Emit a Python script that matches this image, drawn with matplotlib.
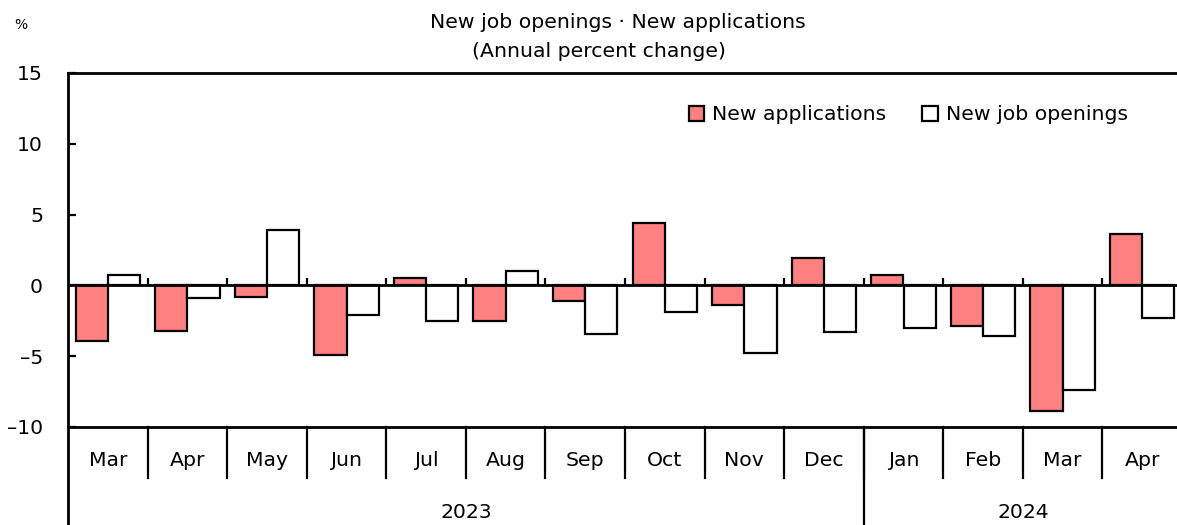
import matplotlib
matplotlib.use("Agg")
import matplotlib.pyplot as plt
import numpy as np

months = ["Mar", "Apr", "May", "Jun", "Jul", "Aug", "Sep", "Oct", "Nov", "Dec",
          "Jan", "Feb", "Mar", "Apr"]
years = ["2023", "2024"]
year_counts = [10, 4]
new_applications = [-3.9, -3.2, -0.8, -4.9, 0.5, -2.5, -1.1, 4.4, -1.4, 1.9,
                    0.7, -2.9, -8.9, 3.6]
new_job_openings = [0.7, -0.9, 3.9, -2.1, -2.5, 1.0, -3.4, -1.9, -4.8, -3.3,
                    -3.0, -3.6, -7.4, -2.3]
yticks = [15, 10, 5, 0, -5, -10]

plt.rcParams['font.family'] = ['DejaVu Sans']
FS = 14.7

W, H = 1177, 525
fig = plt.figure(figsize=(W / 100, H / 100), dpi=100)
left, right, top, bottom = 68, 1182, 73, 427
ax = fig.add_axes([left / W, (H - bottom) / H, (right - left) / W, (bottom - top) / H])

n = len(months)
x = np.arange(n) + 0.5
bw = 0.405
ax.bar(x - bw / 2, new_applications, width=bw, color="#FF8080", edgecolor="black",
       linewidth=1.6, label="New applications", zorder=3)
ax.bar(x + bw / 2, new_job_openings, width=bw, color="white", edgecolor="black",
       linewidth=1.6, label="New job openings", zorder=3)

ax.set_xlim(0, n)
ax.set_ylim(-10, 15)
ax.axhline(0, color="black", linewidth=2, zorder=4)
# small ticks on zero line at category boundaries
ax.vlines(np.arange(1, n), 0, 0.5, color="black", linewidth=1.6, zorder=4)

for s in ["left", "top", "bottom"]:
    ax.spines[s].set_linewidth(2)
ax.spines["right"].set_visible(False)

ax.set_yticks(yticks)
ax.set_yticklabels([str(v).replace("-", "\u2013") for v in yticks], fontsize=FS)
ax.tick_params(axis="y", direction="in", length=6, width=1.6, pad=18)
ax.set_xticks([])

# month / year rows
tr = ax.get_xaxis_transform()
ax_h = bottom - top
y_sep1 = -(478 - bottom) / ax_h
y_sep2 = -(H - bottom) / ax_h
for k in range(1, n):
    ax.plot([k, k], [0, y_sep1], transform=tr, color="black", lw=1.6, clip_on=False)
for i, m in enumerate(months):
    ax.text(i + 0.5, -(461 - bottom) / ax_h, m, transform=tr, ha="center", va="center",
            fontsize=FS)
ax.plot([0, 0], [0, y_sep2], transform=tr, color="black", lw=2, clip_on=False)
start = 0
for yr, c in zip(years, year_counts):
    ax.text(start + c / 2, -(512 - bottom) / ax_h, yr, transform=tr, ha="center",
            va="center", fontsize=FS)
    start += c
    if start < n:
        ax.plot([start, start], [0, y_sep2], transform=tr, color="black", lw=1.6,
                clip_on=False)

# titles
fig.text(618 / W, 1 - 28 / H, "New job openings \u00b7 New applications", ha="center",
         va="baseline", fontsize=FS)
fig.text(599 / W, 1 - 57 / H, "(Annual percent change)", ha="center", va="baseline",
         fontsize=FS)
fig.text(21 / W, 1 - 25 / H, "%", ha="center", va="center", fontsize=10)

leg = ax.legend(loc="upper right", bbox_to_anchor=((1136 - left) / (right - left), 1 - (97 - top) / ax_h),
                ncol=2, frameon=False, fontsize=FS, handlelength=0.75, handleheight=0.75,
                handletextpad=0.4, columnspacing=1.75, borderaxespad=0)

fig.savefig("out.png", dpi=100)
